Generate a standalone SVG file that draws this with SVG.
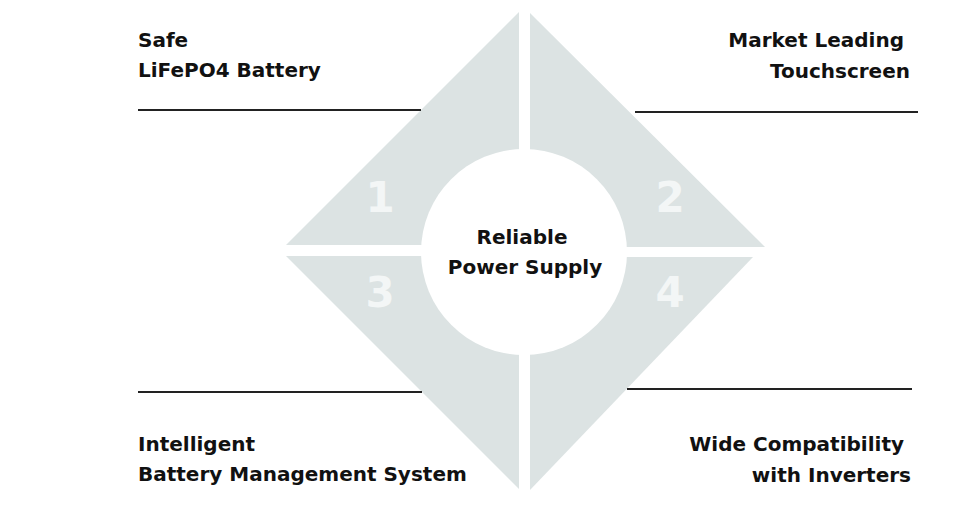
<svg xmlns="http://www.w3.org/2000/svg" width="973" height="509" viewBox="0 0 973 509">
<style>
.q{fill:#dce3e3}
.num{font-family:"DejaVu Sans","Liberation Sans",sans-serif;font-weight:bold;font-size:42px;fill:#f3f6f6;text-anchor:middle}
.lbl{font-family:"DejaVu Sans","Liberation Sans",sans-serif;font-weight:bold;font-size:20px;fill:#111}
.r{text-anchor:end}
.c{text-anchor:middle}
.ln{stroke:#222;stroke-width:2}
</style>
<rect width="973" height="509" fill="#fff"/>
<g id="quadrant-1">
<polygon class="q" points="519,12 286,245 519,245"/>
<text class="num" x="380" y="212">1</text>
</g>
<g id="quadrant-2">
<polygon class="q" points="530,13 765,247 530,247"/>
<text class="num" x="670" y="212">2</text>
</g>
<g id="quadrant-3">
<polygon class="q" points="286,256 519,256 519,489"/>
<text class="num" x="380" y="307">3</text>
</g>
<g id="quadrant-4">
<polygon class="q" points="530,257 753,257 530,490"/>
<text class="num" x="670" y="307">4</text>
</g>
<g id="center">
<circle cx="524" cy="252" r="103" fill="#fff"/>
<text class="lbl c" x="522" y="244">Reliable</text>
<text class="lbl c" x="525" y="274">Power Supply</text>
</g>
<g id="connectors">
<line class="ln" x1="138" y1="110" x2="421" y2="110"/>
<line class="ln" x1="635" y1="112" x2="918" y2="112"/>
<line class="ln" x1="138" y1="392" x2="422" y2="392"/>
<line class="ln" x1="627" y1="389" x2="912" y2="389"/>
</g>
<g id="label-1">
<text class="lbl" x="138" y="47">Safe</text>
<text class="lbl" x="138" y="77">LiFePO4 Battery</text>
</g>
<g id="label-2">
<text class="lbl r" x="904" y="47">Market Leading</text>
<text class="lbl r" x="910" y="78">Touchscreen</text>
</g>
<g id="label-3">
<text class="lbl" x="138" y="451">Intelligent</text>
<text class="lbl" x="138" y="481">Battery Management System</text>
</g>
<g id="label-4">
<text class="lbl r" x="904" y="451">Wide Compatibility</text>
<text class="lbl r" x="911" y="482">with Inverters</text>
</g>
</svg>
